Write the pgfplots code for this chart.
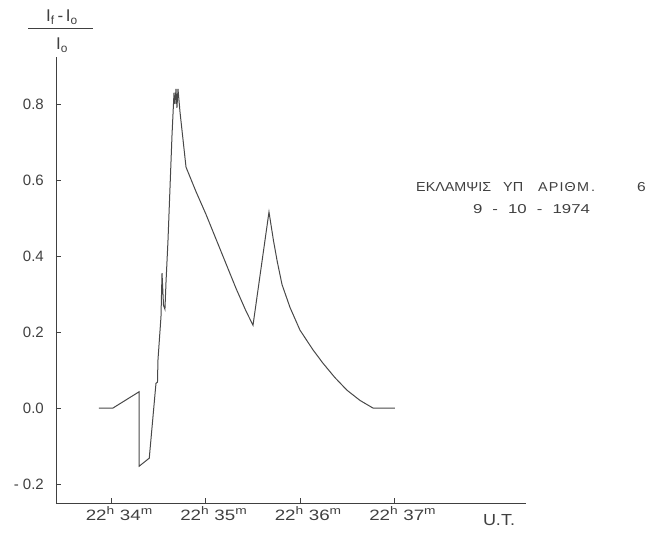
\documentclass[border=0pt]{standalone}
\usepackage{fontspec}
\setmainfont{Liberation Sans}
\usepackage{graphicx}
\usepackage{pgfplots}
\pgfplotsset{compat=1.18}
\definecolor{ink}{HTML}{404040}
\definecolor{trace}{HTML}{484848}
\newcommand{\tl}[2]{\scalebox{1.25}[1]{#1\raisebox{0.45em}{\fontsize{11}{12}\selectfont h}\hspace{0.3em}#2\raisebox{0.45em}{\fontsize{11}{12}\selectfont m}}}
\begin{document}
\begin{tikzpicture}
\useasboundingbox (0pt,0pt) rectangle (654pt,534pt);
\begin{axis}[
  at={(56pt,31pt)}, anchor=south west, scale only axis,
  width=470pt, height=446pt,
  xmin=-0.582, xmax=4.392, ymin=-0.25, ymax=0.924,
  axis x line=bottom, axis y line=left,
  axis line style={-, ink, line width=0.8pt},
  tick align=inside, major tick length=5pt,
  tick style={ink, line width=0.8pt},
  xtick={0,1,2,3},
  xticklabels={\tl{22}{34},\tl{22}{35},\tl{22}{36},\tl{22}{37}},
  ytick={-0.2,0,0.2,0.4,0.6,0.8},
  yticklabels={- 0.2,0.0,0.2,0.4,0.6,0.8},
  ticklabel style={font=\fontsize{15}{18}\selectfont, text=ink},
  xticklabel style={inner sep=0pt, anchor=north, yshift=-3pt, xshift=8pt},
  yticklabel style={inner sep=0pt, anchor=east, xshift=-12pt},
  clip=false,
]
\addplot[trace, line width=1pt] coordinates {
 (-0.127,0) (0.021,0) (0.299,0.043) (0.299,-0.153) (0.405,-0.132)
 (0.476,0.065) (0.492,0.068) (0.497,0.126) (0.529,0.24) (0.540,0.355)
 (0.556,0.27) (0.571,0.26) (0.582,0.33) (0.603,0.44) (0.646,0.72)
 (0.667,0.83) (0.677,0.80) (0.688,0.84) (0.698,0.79) (0.709,0.84)
 (0.730,0.78) (0.794,0.634) (0.899,0.57) (1.005,0.51) (1.111,0.445)
 (1.217,0.38) (1.323,0.315) (1.429,0.255) (1.503,0.218) (1.672,0.516)
 (1.72,0.44) (1.76,0.385) (1.81,0.325) (1.894,0.265) (2.0,0.205)
 (2.138,0.153) (2.243,0.118) (2.370,0.08) (2.497,0.047) (2.635,0.02)
 (2.772,0.0) (3.005,0.0)
};
\end{axis}
% y-axis label (fraction)
\node[anchor=base, text=ink, font=\fontsize{17}{20}\selectfont, inner sep=0pt] at (62pt,534pt-22pt) {I\textsubscript{f}\,-\,I\textsubscript{o}};
\draw[ink, line width=0.8pt] (28pt,534pt-28pt) -- (93pt,534pt-28pt);
\node[anchor=base, text=ink, font=\fontsize{17}{20}\selectfont, inner sep=0pt] at (62pt,534pt-50pt) {I\textsubscript{o}};
% annotation
\begin{scope}[every node/.style={text=ink, font=\fontsize{13}{15}\selectfont, inner sep=0pt}]
\node[anchor=base west] at (416pt,534pt-192pt) {\resizebox{75pt}{9pt}{ΕΚΛΑΜΨΙΣ}};
\node[anchor=base west] at (503pt,534pt-192pt) {\resizebox{20pt}{9pt}{ΥΠ}};
\node[anchor=base west] at (538pt,534pt-192pt) {\resizebox{57pt}{9pt}{Α\kern1pt Ρ\kern1pt Ι\kern1pt Θ\kern1pt Μ\kern2pt .}};
\node[anchor=base west] at (637pt,534pt-192pt) {\scalebox{1.2}[1]{6}};
\node[anchor=base] at (531.5pt,534pt-214pt) {\resizebox{117pt}{9pt}{9\hspace{0.6em}-\hspace{0.6em}10\hspace{0.6em}-\hspace{0.6em}1974}};
\end{scope}
\node[anchor=base, text=ink, font=\fontsize{15}{18}\selectfont, inner sep=0pt] at (499pt,534pt-526pt) {\resizebox{32pt}{11pt}{U.T.}};
\end{tikzpicture}
\end{document}
